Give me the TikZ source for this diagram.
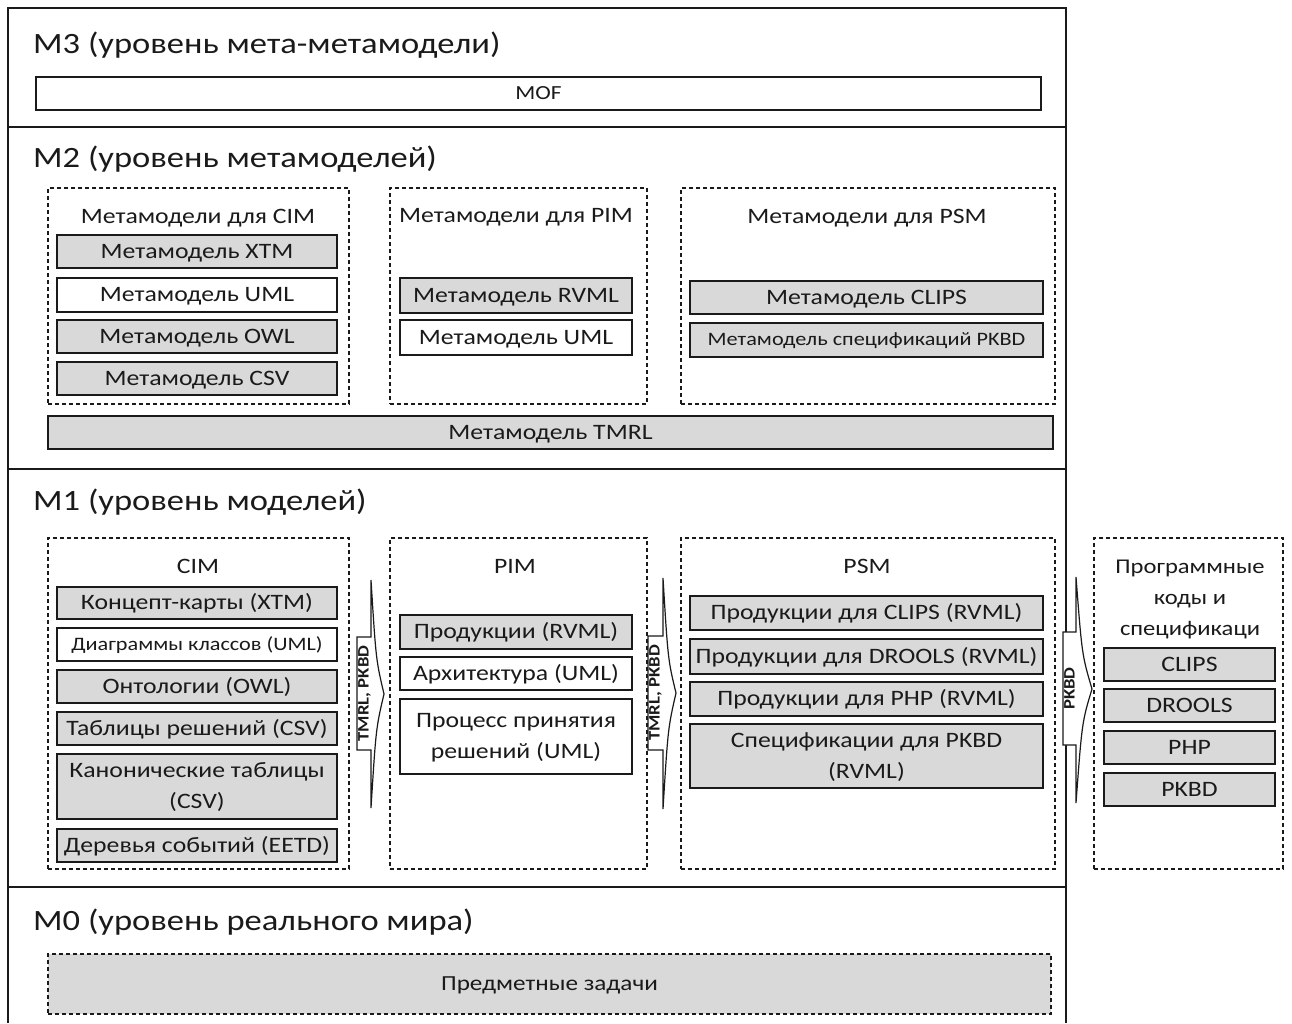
\documentclass[tikz,border=0pt]{standalone}
\usepackage{fontspec}
\setmainfont{Carlito}[FakeStretch=1.17]
\usetikzlibrary{calc}
\definecolor{ink}{HTML}{1A1A1A}
\definecolor{boxgray}{HTML}{D9D9D9}
\newcommand\ttlfont{\fontsize{29.5}{34}\selectfont}
\newcommand\boxfont{\fontsize{22}{31}\selectfont}
\newcommand\smallboxfont{\fontsize{19}{24}\selectfont}
\newcommand\arrfont{\fontsize{16}{18}\selectfont\bfseries}
% rectangle node from corner coordinates: style, x1, y1, x2, y2, name, text
\newcommand\rbox[7]{%
  \node[#1, minimum width={#4-#2}, minimum height={#5-#3}]
    (#6) at ({(#2+#4)/2},{(#3+#5)/2}) {#7};}
\begin{document}
\begin{tikzpicture}[x=1pt,y=-1pt,
  every node/.style={text=ink},
  frame/.style={draw=ink, line width=1.5pt},
  title/.style={anchor=west, inner sep=0pt, font=\ttlfont,
    text height=19pt, text depth=1pt},
  grouptitle/.style={inner sep=0pt, font=\boxfont,
    text height=14pt, text depth=1pt},
  boxbase/.style={draw=ink, line width=1.4pt, inner sep=0pt,
    font=\boxfont, align=center, text height=14pt, text depth=1pt},
  gbox/.style={boxbase, fill=boxgray},
  wbox/.style={boxbase, fill=white},
  twoline/.style={text height=45pt},
  smalltext/.style={font=\smallboxfont, text height=12pt, text depth=1pt},
  group/.style={draw=ink, line width=1.2pt, dash pattern=on 4pt off 3pt,
    inner sep=0pt},
  blockarrow/.style={draw=ink, line width=1.2pt, fill=white, line join=miter},
  arrlabel/.style={rotate=90, inner sep=0pt, font=\arrfont}
]
\useasboundingbox (0,0) rectangle (1292,1023);

% outer frame and level dividers
\draw[frame] (8,1023) -- (8,8) -- (1066,8) -- (1066,1023);
\draw[frame] (8,127) -- (1066,127);
\draw[frame] (8,469) -- (1066,469);
\draw[frame] (8,887) -- (1066,887);

% ---------- M3 ----------
\node[title] (t3) at (33,44) {M3 (уровень мета-метамодели)};
\rbox{wbox, font=\fontsize{20}{24}\selectfont, text height=13pt}{36}{77}{1041}{110}{mof}{MOF}

% ---------- M2 ----------
\node[title] (t2) at (33,158) {M2 (уровень метамоделей)};
\rbox{group}{48}{188}{349}{404}{g2c}{}
\rbox{group}{390}{188}{647}{404}{g2p}{}
\rbox{group}{681}{188}{1055}{404}{g2s}{}
\node[grouptitle] (g2ct) at (198,217) {Метамодели для CIM};
\node[grouptitle] (g2pt) at (516,216) {Метамодели для PIM};
\node[grouptitle] (g2st) at (867,217) {Метамодели для PSM};
\rbox{gbox}{57}{235}{337}{268}{mxtm}{Метамодель XTM}
\rbox{wbox}{57}{278}{337}{312}{muml}{Метамодель UML}
\rbox{gbox}{57}{320}{337}{353}{mowl}{Метамодель OWL}
\rbox{gbox}{57}{362}{337}{395}{mcsv}{Метамодель CSV}
\rbox{gbox}{400}{278}{632}{313}{mrvml}{Метамодель RVML}
\rbox{wbox}{400}{320}{632}{355}{mumlp}{Метамодель UML}
\rbox{gbox}{690}{281}{1043}{314}{mclips}{Метамодель CLIPS}
\rbox{gbox, smalltext}{690}{323}{1043}{357}{mpkbd}{Метамодель спецификаций PKBD}
\rbox{gbox}{48}{416}{1053}{449}{mtmrl}{Метамодель TMRL}

% ---------- M1 ----------
\node[title] (t1) at (33,501) {M1 (уровень моделей)};
\rbox{group}{48}{538}{349}{869}{g1c}{}
\rbox{group}{390}{538}{647}{869}{g1p}{}
\rbox{group}{681}{538}{1055}{869}{g1s}{}
\rbox{group}{1094}{538}{1283}{869}{g1x}{}
\node[grouptitle] (g1ct) at (198,567) {CIM};
\node[grouptitle] (g1pt) at (515,567) {PIM};
\node[grouptitle] (g1st) at (867,567) {PSM};
\node[inner sep=0pt, align=center, font=\fontsize{21}{31}\selectfont]
  (g1xt) at (1190,599) {Программные\\коды и\\спецификаци};

\rbox{gbox}{57}{587}{337}{619}{cxtm}{Концепт-карты (XTM)}
\rbox{wbox, smalltext}{57}{628}{337}{661}{cuml}{Диаграммы классов (UML)}
\rbox{gbox}{57}{670}{337}{703}{cowl}{Онтологии (OWL)}
\rbox{gbox}{57}{712}{337}{745}{ccsv}{Таблицы решений (CSV)}
\rbox{gbox, twoline}{57}{754}{337}{819}{ccan}{Канонические таблицы\\(CSV)}
\rbox{gbox}{57}{829}{337}{862}{ceetd}{Деревья событий (EETD)}

\rbox{gbox}{400}{615}{632}{649}{prvml}{Продукции (RVML)}
\rbox{wbox}{400}{657}{632}{690}{parch}{Архитектура (UML)}
\rbox{wbox, twoline}{400}{699}{632}{774}{pproc}{Процесс принятия\\решений (UML)}

\rbox{gbox}{690}{596}{1043}{630}{sclips}{Продукции для CLIPS (RVML)}
\rbox{gbox}{690}{639}{1043}{674}{sdrools}{Продукции для DROOLS (RVML)}
\rbox{gbox}{690}{682}{1043}{716}{sphp}{Продукции для PHP (RVML)}
\rbox{gbox, twoline}{690}{724}{1043}{788}{spkbd}{Спецификации для PKBD\\(RVML)}

\rbox{gbox}{1104}{648}{1275}{681}{xclips}{CLIPS}
\rbox{gbox}{1104}{689}{1275}{722}{xdrools}{DROOLS}
\rbox{gbox}{1104}{731}{1275}{764}{xphp}{PHP}
\rbox{gbox}{1104}{773}{1275}{806}{xpkbd}{PKBD}

% block arrows between the model groups
\draw[blockarrow] (371,580) -- (371,637) -- (357,637) -- (357,750) -- (371,750)
  -- (371,808) .. controls (376,728) .. (384,694) .. controls (376,660) .. cycle;
\node[arrlabel] (a1) at (364.5,693.5) {TMRL, PKBD};
\draw[blockarrow] (663,578) -- (663,636) -- (648,636) -- (648,750) -- (663,750)
  -- (663,809) .. controls (668,728) .. (676,693) .. controls (668,660) .. cycle;
\node[arrlabel] (a2) at (655.5,693) {TMRL, PKBD};
\draw[blockarrow] (1076,577) -- (1076,632) -- (1063,632) -- (1063,745) -- (1076,745)
  -- (1076,803) .. controls (1082,722) .. (1092,689) .. controls (1082,655) .. cycle;
\node[arrlabel] (a3) at (1069.5,688.5) {PKBD};

% ---------- M0 ----------
\node[title] (t0) at (33,921) {M0 (уровень реального мира)};
\rbox{group, fill=boxgray, font=\fontsize{21.5}{24}\selectfont,
  text height=14pt, text depth=1pt}{48}{954}{1051}{1014}{task}{Предметные задачи}
\end{tikzpicture}
\end{document}
